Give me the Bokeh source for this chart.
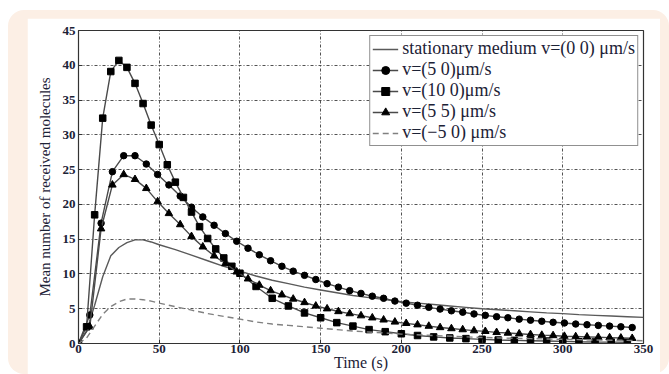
from bokeh.plotting import figure
from bokeh.models import Range1d, FixedTicker, Legend, LegendItem
from bokeh.layouts import column
from bokeh.embed import file_html
from bokeh.resources import INLINE

# ---- data ----
t_stat = [0, 5, 10, 15, 20, 25, 30, 35, 40, 45, 50, 60, 70, 80, 90, 100, 110, 120, 130, 140,
          150, 160, 170, 180, 190, 200, 210, 220, 230, 240, 250, 260, 270, 280, 290, 300,
          310, 320, 330, 340, 350]
y_stat = [0, 1.8, 5.5, 9.6, 12.6, 13.8, 14.5, 14.9, 14.9, 14.6, 14.2, 13.5, 12.7, 11.9, 11.1,
          10.4, 9.7, 9.1, 8.6, 8.1, 7.7, 7.3, 6.9, 6.6, 6.3, 6.0, 5.8, 5.6, 5.4, 5.2, 5.0,
          4.85, 4.7, 4.55, 4.4, 4.3, 4.15, 4.05, 3.95, 3.85, 3.75]

t_7 = [0, 7, 14, 21, 28, 35, 42, 49, 56, 63, 70, 77, 84, 91, 98, 105, 112, 119, 126, 133,
       140, 147, 154, 161, 168, 175, 182, 189, 196, 203, 210, 217, 224, 231, 238, 245, 252,
       259, 266, 273, 280, 287, 294, 301, 308, 315, 322, 329, 336, 343]
y_50 = [0, 4.1, 17.3, 24.7, 27.0, 27.0, 25.8, 24.3, 22.8, 21.2, 19.6, 18.2, 17.0, 15.8, 14.7,
        13.7, 12.75, 11.9, 11.1, 10.4, 9.8, 9.2, 8.6, 8.1, 7.6, 7.2, 6.8, 6.5, 6.1, 5.8, 5.5,
        5.2, 4.95, 4.7, 4.5, 4.25, 4.05, 3.85, 3.7, 3.5, 3.35, 3.2, 3.05, 2.95, 2.8, 2.7, 2.6,
        2.5, 2.4, 2.3]
y_55 = [0, 2.4, 16.5, 22.8, 24.3, 23.6, 22.3, 20.4, 18.7, 17.1, 15.4, 13.9, 12.6, 11.5, 10.3,
        9.3, 8.4, 7.6, 7.0, 6.4, 5.9, 5.4, 5.0, 4.6, 4.3, 4.0, 3.7, 3.4, 3.1, 2.9, 2.7, 2.5,
        2.3, 2.15, 2.0, 1.85, 1.75, 1.6, 1.5, 1.4, 1.3, 1.2, 1.15, 1.05, 1.0, 0.95, 0.9, 0.85,
        0.8, 0.75]

t_100 = [0, 5, 10, 15, 20, 25, 30, 35, 40, 45, 50, 55, 60, 65, 70, 75, 80, 85, 90, 95, 100,
         110, 120, 130, 140, 150, 160, 170, 180, 190, 200, 210, 220, 230, 240, 250, 260, 270,
         280, 290, 300, 310, 320, 330, 340]
y_100 = [0, 2.4, 18.5, 32.4, 39.1, 40.7, 39.7, 37.4, 34.5, 31.4, 28.6, 25.7, 23.2, 21.0, 18.9,
         16.8, 15.1, 13.6, 12.3, 11.1, 10.1, 8.2, 6.5, 5.4, 4.4, 3.7, 3.0, 2.5, 2.0, 1.7, 1.4,
         1.15, 0.95, 0.8, 0.7, 0.6, 0.5, 0.45, 0.4, 0.35, 0.3, 0.25, 0.22, 0.2, 0.18]

t_neg = [0, 5, 10, 15, 20, 25, 30, 35, 40, 45, 50, 60, 70, 80, 90, 100, 110, 120, 130, 140,
         150, 160, 170, 180, 190, 200, 220, 240, 260, 280, 300, 320, 340, 350]
y_neg = [0, 0.8, 2.5, 4.2, 5.3, 6.0, 6.4, 6.4, 6.3, 6.1, 5.8, 5.3, 4.8, 4.3, 3.9, 3.5, 3.1,
         2.8, 2.6, 2.4, 2.2, 2.0, 1.8, 1.65, 1.5, 1.35, 1.15, 0.95, 0.8, 0.7, 0.6, 0.5, 0.45, 0.4]

x_ticks = [0, 50, 100, 150, 200, 250, 300, 350]
y_ticks = [0, 5, 10, 15, 20, 25, 30, 35, 40, 45]

labels = ["stationary medium v=(0 0) \u03bcm/s", "v=(5 0)\u03bcm/s", "v=(10 0)\u03bcm/s",
          "v=(5 5) \u03bcm/s", "v=(\u22125 0) \u03bcm/s"]

SERIF = "Liberation Serif"
TXT = "#1c2236"

p = figure(width=633, height=356, x_range=Range1d(0, 350), y_range=Range1d(0, 45),
           output_backend="svg", toolbar_location=None,
           min_border_left=51, min_border_right=17, min_border_top=12, min_border_bottom=31,
           background_fill_color="white", border_fill_color="white")
p.margin = (8, 9, 0, 19)
p.outline_line_color = "#333333"
p.outline_line_width = 1.2

for ax in (p.xaxis[0], p.yaxis[0]):
    ax.major_tick_in = 4
    ax.major_tick_out = 0
    ax.minor_tick_line_color = None
    ax.axis_line_color = "#333333"
    ax.major_tick_line_color = "#333333"
    ax.major_label_text_font = SERIF
    ax.major_label_text_font_size = "13px"
    ax.major_label_text_font_style = "bold"
    ax.major_label_text_color = TXT
    ax.axis_label_text_font = SERIF
    ax.axis_label_text_font_style = "normal"
    ax.axis_label_text_color = TXT

p.xaxis.ticker = FixedTicker(ticks=x_ticks)
p.yaxis.ticker = FixedTicker(ticks=y_ticks)
p.xaxis.major_label_standoff = 1
p.yaxis.major_label_standoff = 3
p.xaxis.axis_label = "Time (s)"
p.xaxis.axis_label_text_font_size = "16px"
p.xaxis.axis_label_standoff = -2
p.yaxis.axis_label = "Mean number of received molecules"
p.yaxis.axis_label_text_font_size = "15px"
p.yaxis.axis_label_standoff = 7

p.grid.grid_line_color = "#333333"
p.grid.grid_line_dash = "3 2 1 2"
p.grid.grid_line_width = 1
p.grid.grid_line_alpha = 0.85
p.xgrid.ticker = FixedTicker(ticks=x_ticks)
p.ygrid.ticker = FixedTicker(ticks=y_ticks)

LC = "#4a4a4a"
r_stat = p.line(t_stat, y_stat, line_color="#5a5a5a", line_width=1.4)
l50 = p.line(t_7, y_50, line_color=LC, line_width=1.4)
s50 = p.scatter(t_7, y_50, marker="circle", size=6.5, fill_color="black", line_color="black")
l100 = p.line(t_100, y_100, line_color=LC, line_width=1.4)
s100 = p.scatter(t_100, y_100, marker="square", size=6.5, fill_color="black", line_color="black")
l55 = p.line(t_7, y_55, line_color=LC, line_width=1.4)
s55 = p.scatter(t_7, y_55, marker="triangle", size=7.5, fill_color="black", line_color="black")
r_neg = p.line(t_neg, y_neg, line_color="#808080", line_width=1.4, line_dash="6 4")

legend = Legend(items=[
    LegendItem(label=labels[0], renderers=[r_stat]),
    LegendItem(label=labels[1], renderers=[l50, s50]),
    LegendItem(label=labels[2], renderers=[l100, s100]),
    LegendItem(label=labels[3], renderers=[l55, s55]),
    LegendItem(label=labels[4], renderers=[r_neg]),
], location="top_right")
legend.margin = 5
legend.padding = 2
legend.spacing = 0
legend.glyph_width = 26
legend.glyph_height = 20
legend.label_height = 20
legend.label_standoff = 4
legend.label_text_font = SERIF
legend.label_text_font_size = "18px"
legend.label_text_color = TXT
legend.border_line_color = "#222222"
legend.border_line_width = 1.2
legend.background_fill_color = "white"
legend.background_fill_alpha = 1
p.add_layout(legend)

layout = column(p, styles={"background-color": "#fcefe5", "border-radius": "16px"})
layout.margin = (10, 0, 0, 8)

open("out.html", "w").write(file_html(layout, INLINE))
